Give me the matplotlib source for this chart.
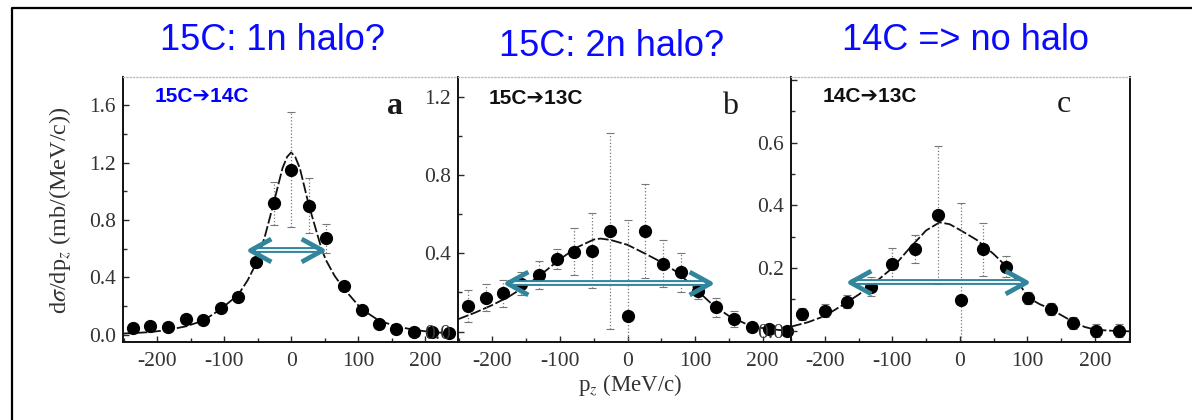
import matplotlib
matplotlib.use("Agg")
import matplotlib.pyplot as plt
from matplotlib.path import Path
from matplotlib.lines import Line2D
from matplotlib.ticker import MultipleLocator, FuncFormatter

plt.rcParams['axes.unicode_minus'] = False
plt.rcParams['mathtext.fontset'] = 'stix'

# ---- data -------------------------------------------------------------
# panel a: 15C -> 14C
a_p = [-236, -210, -184, -157, -131, -105, -79, -52, -26, 0, 26, 52, 79, 105, 131, 157, 184, 210, 236]
a_sigma = [0.046, 0.063, 0.058, 0.109, 0.104, 0.186, 0.267, 0.506, 0.916, 1.148, 0.90, 0.673,
           0.341, 0.174, 0.074, 0.039, 0.023, 0.023, 0.016]
a_err = [0.01, 0.01, 0.01, 0.01, 0.01, 0.015, 0.02, 0.03, 0.15, 0.40, 0.19, 0.10,
         0.02, 0.015, 0.01, 0.01, 0.01, 0.01, 0.01]
a_fit_p = [-251, -236, -210, -184, -157, -131, -105, -79, -65, -52, -45, -39, -26, -13, -6, 0,
           6, 13, 26, 39, 46, 52, 65, 79, 105, 131, 157, 184, 210, 236, 249]
a_fit = [0.010, 0.013, 0.020, 0.035, 0.060, 0.10, 0.18, 0.28, 0.38, 0.50, 0.60, 0.69, 0.92, 1.16, 1.24, 1.27,
         1.24, 1.16, 0.91, 0.70, 0.59, 0.52, 0.41, 0.32, 0.18, 0.10, 0.06, 0.035, 0.02, 0.012, 0.010]

# panel b: 15C -> 13C
b_p = [-236, -210, -184, -157, -131, -105, -79, -52, -26, 0, 26, 52, 79, 105, 131, 157, 184, 210, 236]
b_sigma = [0.131, 0.174, 0.196, 0.245, 0.289, 0.371, 0.409, 0.414, 0.514, 0.080, 0.514, 0.346,
           0.303, 0.208, 0.124, 0.063, 0.026, 0.012, 0.005]
b_err = [0.08, 0.07, 0.07, 0.06, 0.07, 0.05, 0.12, 0.19, 0.50, 0.49, 0.24, 0.12,
         0.10, 0.04, 0.05, 0.04, 0.02, 0.02, 0.02]
b_fit_p = [-251, -225, -200, -175, -150, -125, -100, -75, -50, -40, -25, 0, 25, 50, 75, 100,
           125, 150, 175, 200, 225, 242]
b_fit = [0.063, 0.098, 0.136, 0.18, 0.235, 0.30, 0.37, 0.43, 0.47, 0.475, 0.468, 0.443, 0.40,
         0.355, 0.30, 0.22, 0.14, 0.08, 0.04, 0.018, 0.008, 0.005]

# panel c: 14C -> 13C
c_p = [-234, -200, -167, -132, -100, -66, -32, 1, 34, 69, 101, 135, 168, 201, 235]
c_sigma = [0.053, 0.064, 0.093, 0.141, 0.213, 0.261, 0.370, 0.098, 0.26, 0.205, 0.104, 0.069,
           0.024, 0.0, 0.0]
c_err = [0.02, 0.02, 0.02, 0.03, 0.05, 0.045, 0.22, 0.31, 0.085, 0.035, 0.02, 0.02,
         0.02, 0.02, 0.02]
c_fit_p = [-250, -225, -200, -175, -150, -125, -100, -75, -50, -30, -15, 0, 25, 50, 69, 88,
           101, 118, 135, 150, 168, 185, 201, 225, 252]
c_fit = [0.013, 0.027, 0.047, 0.080, 0.115, 0.155, 0.20, 0.262, 0.32, 0.346, 0.34, 0.322, 0.29,
         0.245, 0.205, 0.15, 0.106, 0.085, 0.069, 0.05, 0.028, 0.012, 0.003, 0.0, -0.002]

# FWHM markers: (left, right, height)
a_fwhm = (-61, 46, 0.59)
b_fwhm = (-179, 122, 0.25)
c_fwhm = (-163, 98, 0.154)

titles = ["15C: 1n halo?", "15C: 2n halo?", "14C => no halo"]
reactions = ["15C\u279414C", "15C\u279413C", "14C\u279413C"]
letters = ["a", "b", "c"]
x_ticks = [-200, -100, 0, 100, 200]

# ---- figure -----------------------------------------------------------
W, H = 1192, 420
fig = plt.figure(figsize=(W / 100, H / 100), dpi=100)


def box(l, r, t, b):
    return [l / W, 1 - b / H, (r - l) / W, (b - t) / H]


panels = [
    dict(rect=box(123, 458, 77, 342), xlim=(-251, 249), ylim=(-0.049, 1.795), major=0.4, minor=0.2,
         ymax_lab=1.7, p=a_p, s=a_sigma, e=a_err, fp=a_fit_p, f=a_fit, fw=a_fwhm, rc="#0000ff"),
    dict(rect=box(458, 791, 77, 342), xlim=(-251, 242), ylim=(-0.053, 1.30), major=0.4, minor=0.2,
         ymax_lab=1.25, p=b_p, s=b_sigma, e=b_err, fp=b_fit_p, f=b_fit, fw=b_fwhm, rc="#111111"),
    dict(rect=box(791, 1130, 77, 342), xlim=(-250, 252), ylim=(-0.036, 0.81), major=0.2, minor=0.1,
         ymax_lab=0.7, p=c_p, s=c_sigma, e=c_err, fp=c_fit_p, f=c_fit, fw=c_fwhm, rc="#111111"),
]

serif = ['Liberation Serif', 'DejaVu Serif']
scan = '#2a2a2a'
teal = '#31859c'

chev_left = Path([(1, 0.55), (0, 0), (1, -0.55)], [Path.MOVETO, Path.LINETO, Path.LINETO])
chev_right = Path([(-1, 0.55), (0, 0), (-1, -0.55)], [Path.MOVETO, Path.LINETO, Path.LINETO])

fmt = FuncFormatter(lambda v, pos: "%d" % v)


def yfmt(top):
    return FuncFormatter(lambda v, pos: ("%.1f" % abs(v)) if -0.01 < v < top else "")


axes = []
for i, P in enumerate(panels):
    ax = fig.add_axes(P['rect'])
    ax.patch.set_alpha(0)
    ax.set_xlim(*P['xlim'])
    ax.set_ylim(*P['ylim'])
    ax.set_xticks(x_ticks)
    ax.xaxis.set_major_formatter(fmt)
    ax.xaxis.set_minor_locator(MultipleLocator(50))
    ax.yaxis.set_major_locator(MultipleLocator(P['major']))
    ax.yaxis.set_minor_locator(MultipleLocator(P['minor']))
    ax.yaxis.set_major_formatter(yfmt(P['ymax_lab']))
    ax.tick_params(which='both', direction='in', color=scan, width=1.0)
    ax.tick_params(which='major', length=4)
    ax.tick_params(which='minor', length=3)
    ax.tick_params(axis='x', pad=7)
    ax.tick_params(axis='y', pad=5)
    for lab in ax.get_xticklabels() + ax.get_yticklabels():
        lab.set_fontfamily(serif)
        lab.set_fontsize(15.5)
        lab.set_color('#333333')
    for side in ('left', 'bottom'):
        ax.spines[side].set_color('#111111')
        ax.spines[side].set_linewidth(1.4)
    ax.spines['top'].set_color('#bbbbbb')
    ax.spines['top'].set_linestyle(':')
    ax.spines['top'].set_linewidth(0.9)
    if i < 2:
        ax.spines['right'].set_visible(False)
    else:
        ax.spines['right'].set_color('#111111')
        ax.spines['right'].set_linewidth(1.4)

    # measured points with dotted error bars
    eb = ax.errorbar(P['p'], P['s'], yerr=P['e'], fmt='o', color='black', ms=8.5,
                     ecolor='#777777', elinewidth=0.9, capsize=3, capthick=0.8, zorder=3)
    for bl in eb[2]:
        bl.set_linestyle(':')
    eb[0].set_clip_on(False)
    # calculated distribution
    ax.plot(P['fp'], P['f'], color='#111111', lw=1.3, ls=(0, (6, 1.5)), zorder=2)

    # FWHM double arrow
    x0, x1, yh = P['fw']
    ax.plot([x0 + 2, x1 - 2], [yh, yh], color=teal, lw=4.2, solid_capstyle='butt', zorder=5)
    ax.plot([x0 + 8, x1 - 8], [yh, yh], color='white', lw=1.3, solid_capstyle='butt', zorder=6)
    ax.plot([x0], [yh], marker=chev_left, ms=30, mfc='none', mec=teal, mew=3.4, zorder=7)
    ax.plot([x1], [yh], marker=chev_right, ms=30, mfc='none', mec=teal, mew=3.4, zorder=7)

    axes.append(ax)

# reaction labels and panel letters
label_pos = [(155, 96), (489, 98), (823, 96)]
letter_pos = [(395, 106), (730, 106), (1064, 104)]
for i in range(3):
    fig.text(label_pos[i][0] / W, 1 - label_pos[i][1] / H, reactions[i], fontsize=15,
             fontweight='bold', color=panels[i]['rc'], family=['Liberation Sans', 'DejaVu Sans'],
             ha='left', va='center')
    fig.text(letter_pos[i][0] / W, 1 - letter_pos[i][1] / H, letters[i], fontsize=23,
             family=serif, color='#1a1a1a', ha='center', va='center',
             fontweight='bold' if i == 0 else 'normal')

# slide titles
title_pos = [(273, 41), (612, 46), (966, 41)]
for i in range(3):
    fig.text(title_pos[i][0] / W, 1 - title_pos[i][1] / H, titles[i], fontsize=26,
             color='#0a0aff', family=['Liberation Sans', 'DejaVu Sans'], ha='center', va='center')

# axis titles
fig.text(60 / W, 1 - 210 / H, r"d$\sigma$/dp$_z$ (mb/(MeV/c))", rotation=90, fontsize=17.5,
         family=serif, color='#333333', ha='center', va='center')
fig.text(630 / W, 1 - 385 / H, r"p$_z$ (MeV/c)", fontsize=16.5, family=serif,
         color='#333333', ha='center', va='center')

# slide frame
fig.add_artist(Line2D([12 / W, 12 / W, 1.0], [0.0, 1 - 8 / H, 1 - 8 / H],
                      transform=fig.transFigure, color='black', lw=1.6))

fig.savefig("out.png", dpi=100)
